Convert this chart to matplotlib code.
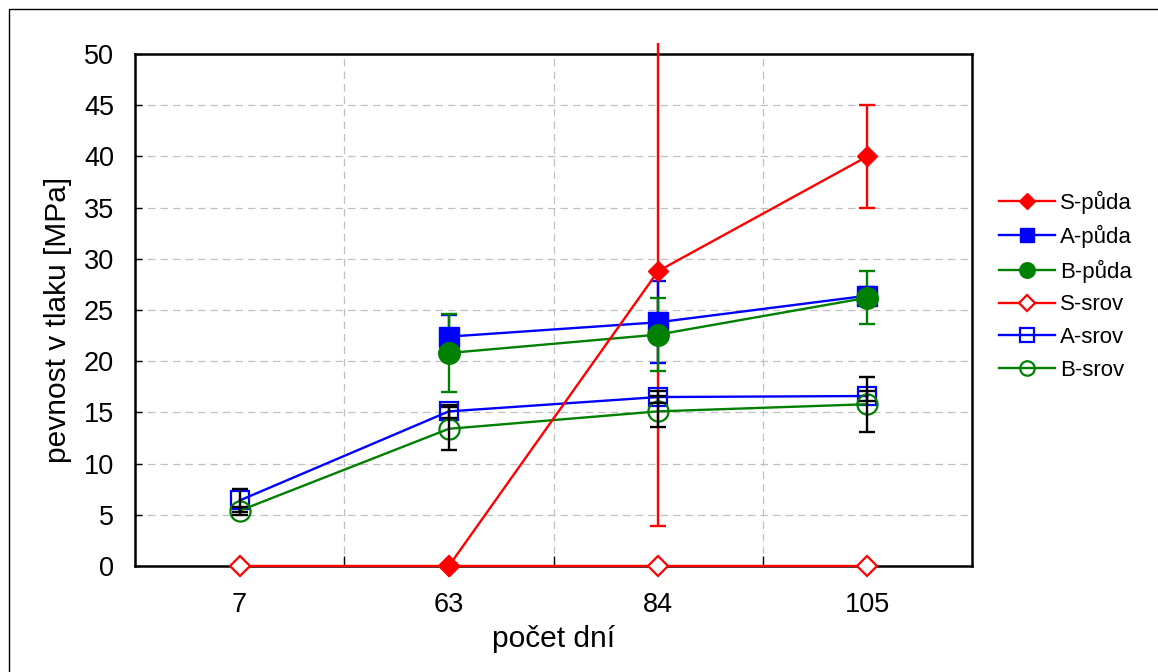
import numpy as np
import matplotlib
matplotlib.use("Agg")
import matplotlib.pyplot as plt
from matplotlib.patches import Rectangle

plt.rcParams['font.family'] = ['Liberation Sans', 'DejaVu Sans']

# --- data ---
days = ["7", "63", "84", "105"]

s_puda = [np.nan, 0.0, 28.8, 40.0]
s_puda_err = [np.nan, 0.0, 24.9, 5.0]
a_puda = [np.nan, 22.4, 23.8, 26.4]
a_puda_err = [np.nan, 2.1, 4.0, 0.8]
b_puda = [np.nan, 20.8, 22.6, 26.2]
b_puda_err = [np.nan, 3.8, 3.6, 2.6]

s_srov = [0.0, 0.0, 0.0, 0.0]
a_srov = [6.4, 15.1, 16.5, 16.6]
a_srov_err = [1.1, 0.6, 0.6, 0.5]
b_srov = [5.4, 13.4, 15.1, 15.8]
b_srov_err = [0.4, 2.1, 1.5, 2.7]

x = np.arange(len(days))

fig = plt.figure(figsize=(11.58, 6.72), dpi=100)
ax = fig.add_axes([135 / 1158, 1 - 566 / 672, (972 - 135) / 1158, (566 - 54) / 672])

# outer frame
fig.patches.append(Rectangle((9 / 1158, -0.1), 1.2, 1.1 - 9 / 672, transform=fig.transFigure,
                             fill=False, edgecolor='black', linewidth=1.0))

lw = 1.7
cap = 5.5
ms_d = 10

# error bars (puda)
clip = Rectangle((0, 0), 1, 1 - 43 / 672, transform=fig.transFigure)
eb = ax.errorbar(x, s_puda, yerr=s_puda_err, fmt='none', ecolor='red', elinewidth=lw,
                 capsize=cap, capthick=lw, zorder=3)
for art in list(eb.lines[1]) + list(eb.lines[2]):
    art.set_clip_on(True)
    art.set_clip_path(clip)
ax.errorbar(x, a_puda, yerr=a_puda_err, fmt='none', ecolor='blue', elinewidth=lw,
            capsize=cap, capthick=lw, zorder=3, clip_on=False)
ax.errorbar(x, b_puda, yerr=b_puda_err, fmt='none', ecolor='green', elinewidth=lw,
            capsize=cap, capthick=lw, zorder=3, clip_on=False)

# lines + markers
ax.plot(x, s_puda, color='red', lw=lw, marker='D', ms=ms_d, mfc='red', mec='red',
        label="S-půda", zorder=4.5, clip_on=False)
ax.plot(x, a_puda, color='blue', lw=lw, marker='s', ms=14.5, mfc='blue', mec='blue',
        label="A-půda", zorder=4, clip_on=False)
ax.plot(x, b_puda, color='green', lw=lw, marker='o', ms=15.5, mfc='green', mec='green',
        label="B-půda", zorder=4, clip_on=False)
ax.plot(x, s_srov, color='red', lw=lw, marker='D', ms=ms_d, mfc='white', mec='red', mew=1.6,
        label="S-srov", zorder=4, clip_on=False)
ax.plot(x, a_srov, color='blue', lw=lw, marker='s', ms=13.5, mfc='none', mec='blue', mew=1.6,
        label="A-srov", zorder=4, clip_on=False)
ax.plot(x, b_srov, color='green', lw=lw, marker='o', ms=14.5, mfc='none', mec='green', mew=1.6,
        label="B-srov", zorder=4, clip_on=False)

# error bars (srov) in black on top
ax.errorbar(x, a_srov, yerr=a_srov_err, fmt='none', ecolor='black', elinewidth=lw,
            capsize=cap, capthick=lw, zorder=5, clip_on=False)
ax.errorbar(x, b_srov, yerr=b_srov_err, fmt='none', ecolor='black', elinewidth=lw,
            capsize=cap, capthick=lw, zorder=5, clip_on=False)

# axes
ax.set_xlim(-0.5, len(days) - 0.5)
ax.set_ylim(0, 50)
ax.set_yticks(np.arange(0, 51, 5))
ax.set_xticks(np.arange(0.5, len(days) - 0.5, 1))
ax.set_xticklabels([])
ax.set_xticks(x, minor=True)
ax.set_xticklabels(days, minor=True)
ax.tick_params(axis='x', which='major', direction='in', length=7, width=1, color='black')
ax.tick_params(axis='x', which='minor', length=0, pad=19, labelsize=19.5)
ax.tick_params(axis='y', direction='in', length=5, width=1, pad=15, labelsize=19.5)

ax.grid(True, which='major', color='#c0c0c0', linestyle=(0, (6, 4)), linewidth=0.9)
ax.set_axisbelow(True)
for sp in ax.spines.values():
    sp.set_linewidth(1.8)

ax.set_xlabel("počet dní", fontsize=21.5, labelpad=5)
ax.set_ylabel("pevnost v tlaku [MPa]", fontsize=21.5)
ax.yaxis.set_label_coords(-0.0753, 0.481)

leg = ax.legend(loc='center left', bbox_to_anchor=(999 / 1158, 1 - 285.5 / 672),
                bbox_transform=fig.transFigure, frameon=False, fontsize=16,
                handlelength=2.5, handletextpad=0.25, labelspacing=0.52,
                borderpad=0, borderaxespad=0, markerscale=0.72)
# diamonds look a bit larger in the key
for h in leg.legend_handles:
    if h.get_marker() == 'D':
        h.set_markersize(ms_d * 0.8)

fig.savefig("out.png", dpi=100)
